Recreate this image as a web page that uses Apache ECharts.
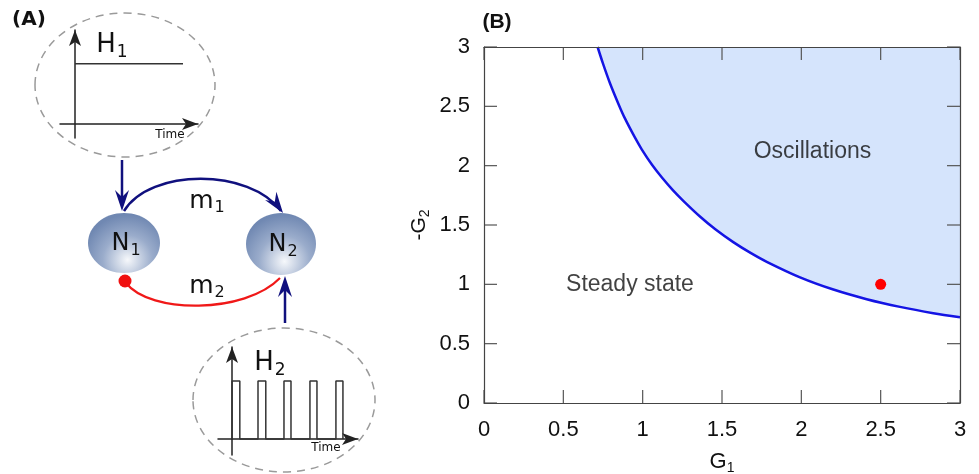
<!DOCTYPE html>
<html><head><meta charset="utf-8">
<script src="https://cdn.jsdelivr.net/npm/echarts@6/dist/echarts.min.js"></script>
<style>html,body{margin:0;padding:0;background:#fff}#c{width:979px;height:474px}</style>
</head><body><div id="c"></div>
<script>
// ---------- Panel B data ----------
const g1Values     = [0.716, 0.75, 0.794, 0.85, 0.889, 0.95, 0.994, 1.06, 1.12, 1.19, 1.256, 1.361, 1.46, 1.571, 1.68, 1.782, 1.992, 2.202, 2.412, 2.622, 2.832, 3.0];
const negG2Values  = [3.0, 2.86, 2.695, 2.512, 2.396, 2.24, 2.138, 2.005, 1.902, 1.794, 1.704, 1.572, 1.462, 1.356, 1.265, 1.19, 1.059, 0.956, 0.875, 0.81, 0.757, 0.723];
const pointG1      = [2.5];
const pointNegG2   = [1.0];
const axisTicks    = [0, 0.5, 1, 1.5, 2, 2.5, 3];
const regionLabels = ['Oscillations', 'Steady state'];
const regionG1     = [2.07, 0.92];
const regionNegG2  = [2.12, 1.0];
// ---------- Panel A data ----------
const h1Time  = [0, 7.2];
const h1Value = [4.3, 4.3];
const h2Time  = [0, 0, 0.3, 0.3, 1, 1, 1.3, 1.3, 2, 2, 2.27, 2.27, 3, 3, 3.27, 3.27, 4, 4, 4.27, 4.27];
const h2Value = [0, 1, 1, 0, 0, 1, 1, 0, 0, 1, 1, 0, 0, 1, 1, 0, 0, 1, 1, 0];

const zip = (a, b) => a.map((v, i) => [v, b[i]]);
const chart = echarts.init(document.getElementById('c'));

const FB = 'Liberation Sans, Arial, sans-serif';
const FA = 'DejaVu Sans, sans-serif';
const NAVY = '#10107e';

const bAxis = (extra) => Object.assign({
  type: 'value', min: 0, max: 3, interval: 0.5, gridIndex: 0, z: 10,
  axisLine: {show: true, onZero: false, lineStyle: {color: '#444', width: 1.2}},
  axisTick: {show: false},
  splitLine: {show: false}
}, extra);
const miniAxis = (grid, min, max) => ({
  type: 'value', gridIndex: grid, min: min, max: max,
  axisLine: {show: true, onZero: true, symbol: ['none', 'arrow'], symbolSize: [9, 16],
             lineStyle: {color: '#222', width: 1.5}},
  axisTick: {show: false}, axisLabel: {show: false}, splitLine: {show: false}
});

// inward tick marks on all four sides, placed through the axes' own scale
const tickData = [];
['b', 't', 'l', 'r'].forEach((side, s) => axisTicks.forEach(v => tickData.push([s, v])));
const TL = 13, TW = 1.2;
function renderTick(params, api) {
  const s = api.value(0), v = api.value(1);
  let p, shape;
  if (s === 0) { p = api.coord([v, 0]); shape = {x: p[0] - TW / 2, y: p[1] - TL, width: TW, height: TL}; }
  else if (s === 1) { p = api.coord([v, 3]); shape = {x: p[0] - TW / 2, y: p[1], width: TW, height: TL}; }
  else if (s === 2) { p = api.coord([0, v]); shape = {x: p[0], y: p[1] - TW / 2, width: TL, height: TW}; }
  else { p = api.coord([3, v]); shape = {x: p[0] - TL, y: p[1] - TW / 2, width: TL, height: TW}; }
  return {type: 'rect', shape: shape, style: {fill: '#555'}};
}

const option = {
  animation: false,
  grid: [
    {left: 484, top: 47, width: 476, height: 356, outerBoundsMode: 'none', containLabel: false},
    {left: 60, top: 30, width: 138, height: 108, outerBoundsMode: 'none'},
    {left: 218, top: 347, width: 140, height: 108, outerBoundsMode: 'none'}
  ],
  xAxis: [
    bAxis({
      position: 'bottom',
      axisLabel: {fontSize: 22, fontFamily: FB, color: '#111', margin: 16},
      name: '{m|G}{s|1}', nameLocation: 'middle', nameGap: 46,
      nameTextStyle: {rich: {
        m: {fontSize: 22, fontFamily: FB, color: '#111'},
        s: {fontSize: 14, fontFamily: FB, color: '#111', padding: [12, 0, 0, 0]}}}
    }),
    bAxis({position: 'top', axisLabel: {show: false}}),
    miniAxis(1, -1, 8.2),
    miniAxis(2, -0.54, 4.85)
  ],
  yAxis: [
    bAxis({
      position: 'left',
      axisLabel: {fontSize: 22, fontFamily: FB, color: '#111', margin: 14},
      name: '{m|-G}{s|2}', nameLocation: 'middle', nameGap: 52,
      nameTextStyle: {rich: {
        m: {fontSize: 21, fontFamily: FB, color: '#111'},
        s: {fontSize: 14, fontFamily: FB, color: '#111', padding: [12, 0, 0, 0]}}}
    }),
    bAxis({position: 'right', axisLabel: {show: false}}),
    miniAxis(1, -1, 6.714),
    miniAxis(2, -0.276, 1.586)
  ],
  series: [
    {type: 'line', xAxisIndex: 0, yAxisIndex: 0, data: zip(g1Values, negG2Values),
     smooth: 0.3, showSymbol: false,
     lineStyle: {color: '#1414e4', width: 2.5},
     areaStyle: {origin: 'end', color: '#d5e4fc', opacity: 1}},
    {type: 'custom', xAxisIndex: 0, yAxisIndex: 0, data: tickData, renderItem: renderTick,
     silent: true, z: 6, clip: false},
    {type: 'scatter', xAxisIndex: 0, yAxisIndex: 0, data: zip(pointG1, pointNegG2),
     symbolSize: 11, itemStyle: {color: '#ff0000', opacity: 1}, z: 7},
    {type: 'scatter', xAxisIndex: 0, yAxisIndex: 0, symbolSize: 0, z: 8, silent: true,
     data: regionLabels.map((t, i) => ({value: [regionG1[i], regionNegG2[i]], name: t})),
     label: {show: true, position: 'inside', formatter: p => p.name,
             fontSize: 23, fontFamily: FB, color: '#111'}},
    {type: 'line', xAxisIndex: 2, yAxisIndex: 2, data: zip(h1Time, h1Value), showSymbol: false,
     lineStyle: {color: '#333', width: 1.5}},
    {type: 'line', xAxisIndex: 3, yAxisIndex: 3, data: zip(h2Time, h2Value), showSymbol: false,
     lineStyle: {color: '#333', width: 1.5}}
  ]
};

// ---------- diagram graphics for panel A ----------
function arrowHead(tx, ty, fx, fy, color) {
  const dx = tx - fx, dy = ty - fy, L = Math.hypot(dx, dy);
  const ux = dx / L, uy = dy / L, px = -uy, py = ux;
  const len = 21, hw = 7, notch = 14;
  const bx = tx - ux * len, by = ty - uy * len;
  return {type: 'polygon', z: 20, shape: {points: [
    [tx, ty], [bx + px * hw, by + py * hw], [tx - ux * notch, ty - uy * notch], [bx - px * hw, by - py * hw]]},
    style: {fill: color}};
}
const sub = (main, s, size, subSize, pad) => ({
  text: '{b|' + main + '}{s|' + s + '}',
  rich: {b: {fontSize: size, fontFamily: FA, fill: '#111'},
         s: {fontSize: subSize, fontFamily: FA, fill: '#111', padding: [pad, 0, 0, 1]}}
});
const textEl = (x, y, st) => ({type: 'text', z: 30, x: x, y: y,
  style: Object.assign({align: 'center', verticalAlign: 'middle'}, st)});
const nodeGrad = () => new echarts.graphic.RadialGradient(0.55, 0.78, 0.75, [
  {offset: 0, color: '#f6f8fb'}, {offset: 0.55, color: '#9aaccb'}, {offset: 1, color: '#7088b2'}]);

const graphics = [
  textEl(29, 20, {text: '(A)', fontSize: 20, fontWeight: 'bold', fontFamily: FA, fill: '#111'}),
  textEl(497, 22, {text: '(B)', fontSize: 21, fontWeight: 'bold', fontFamily: FB, fill: '#111'}),
  {type: 'ellipse', z: 5, shape: {cx: 125, cy: 85, rx: 90, ry: 72},
   style: {fill: 'none', stroke: '#9a9a9a', lineWidth: 1.5, lineDash: [8, 6]}},
  {type: 'ellipse', z: 5, shape: {cx: 284, cy: 400, rx: 91, ry: 72},
   style: {fill: 'none', stroke: '#9a9a9a', lineWidth: 1.5, lineDash: [8, 6]}},
  textEl(112, 45, sub('H', '1', 26, 17, 16)),
  textEl(270, 363, sub('H', '2', 26, 17, 16)),
  textEl(170, 135, {text: 'Time', fontSize: 12, fontFamily: FA, fill: '#111'}),
  textEl(326, 448, {text: 'Time', fontSize: 12, fontFamily: FA, fill: '#111'}),
  {type: 'ellipse', z: 10, shape: {cx: 124, cy: 243, rx: 36, ry: 30}, style: {fill: nodeGrad()}},
  {type: 'ellipse', z: 10, shape: {cx: 281, cy: 244, rx: 35, ry: 31}, style: {fill: nodeGrad()}},
  textEl(126, 244, sub('N', '1', 24, 16, 14)),
  textEl(283, 245, sub('N', '2', 24, 16, 14)),
  {type: 'line', z: 15, shape: {x1: 122, y1: 160, x2: 122, y2: 200}, style: {stroke: NAVY, lineWidth: 2.5}},
  arrowHead(122, 211, 122, 160, NAVY),
  {type: 'bezierCurve', z: 15, shape: {x1: 124, y1: 211, cpx1: 150, cpy1: 168, cpx2: 250, cpy2: 168, x2: 281, y2: 211},
   style: {stroke: NAVY, lineWidth: 2.5, fill: 'none'}},
  arrowHead(283, 213, 252, 170, NAVY),
  textEl(207, 201, sub('m', '1', 25, 16, 14)),
  {type: 'bezierCurve', z: 15, shape: {x1: 126, y1: 283, cpx1: 150, cpy1: 314, cpx2: 245, cpy2: 314, x2: 280, y2: 278},
   style: {stroke: '#f01818', lineWidth: 2.2, fill: 'none'}},
  {type: 'circle', z: 16, shape: {cx: 125, cy: 281, r: 6.5}, style: {fill: '#f01010'}},
  textEl(207, 286, sub('m', '2', 25, 16, 14)),
  {type: 'line', z: 15, shape: {x1: 285, y1: 323, x2: 285, y2: 285}, style: {stroke: NAVY, lineWidth: 2.5}},
  arrowHead(285, 276, 285, 323, NAVY)
];
option.graphic = {elements: graphics};
chart.setOption(option);
</script></body></html>
